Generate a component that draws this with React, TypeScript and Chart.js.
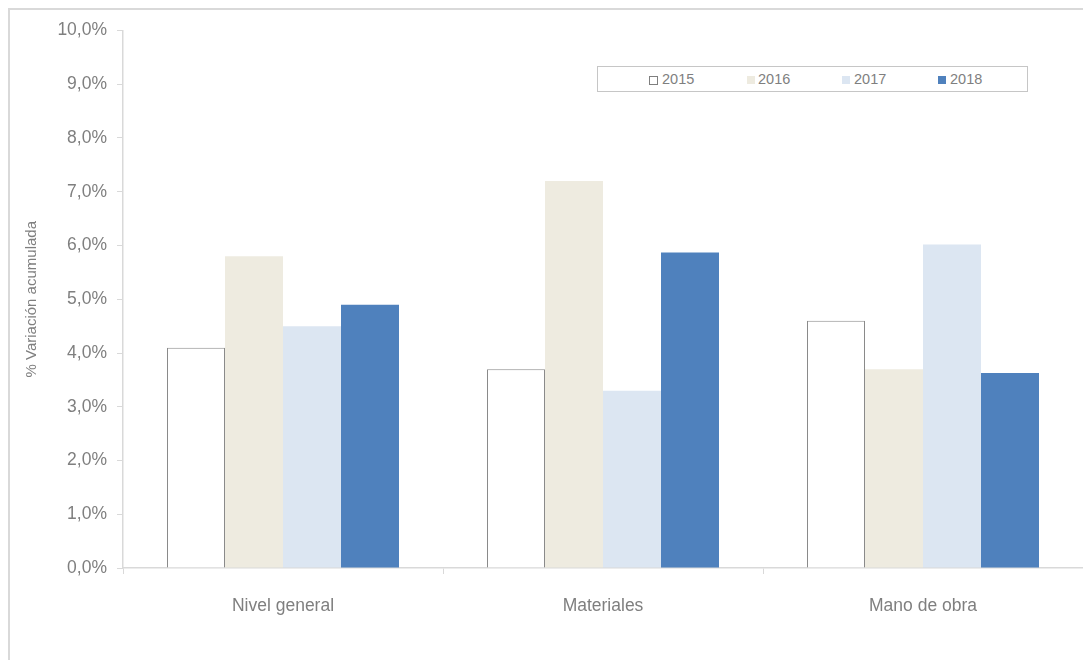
import React, { useEffect, useRef } from "react";
import { Chart, registerables } from "chart.js";

Chart.register(...registerables);

// Categories and yearly accumulated variation (%)
const categories = ["Nivel general", "Materiales", "Mano de obra"];
const years = ["2015", "2016", "2017", "2018"];
const values2015 = [4.1, 3.7, 4.6];
const values2016 = [5.8, 7.2, 3.7];
const values2017 = [4.5, 3.3, 6.02];
const values2018 = [4.9, 5.87, 3.63];
const yTicks = [0, 1, 2, 3, 4, 5, 6, 7, 8, 9, 10];

const FONT = '"Liberation Sans", Arial, sans-serif';
const TEXT = "#7f7f7f";
const AXIS = "#d9d9d9";

const fills = ["#ffffff", "#eeebe0", "#dce6f2", "#4f81bd"];
const borders = ["#8a8a8a", "#eeebe0", "#dce6f2", "#4f81bd"];
const series = [values2015, values2016, values2017, values2018];

const fmt = (v: number) => v.toFixed(1).replace(".", ",") + "%";

export default function App() {
  const ref = useRef<HTMLCanvasElement | null>(null);

  useEffect(() => {
    if (!ref.current) return;
    const chart = new Chart(ref.current, {
      type: "bar",
      data: {
        labels: categories,
        datasets: years.map((y, i) => ({
          label: y,
          data: series[i],
          backgroundColor: fills[i],
          borderColor: borders[i],
          borderWidth: i === 0 ? 1 : 0,
          categoryPercentage: 0.725,
          barPercentage: 1,
        })),
      },
      options: {
        animation: false,
        responsive: true,
        maintainAspectRatio: false,
        layout: { padding: { top: 18, right: 8, left: 0, bottom: 0 } },
        plugins: {
          legend: { display: false },
          tooltip: { enabled: false },
        },
        scales: {
          x: {
            grid: {
              offset: true,
              drawOnChartArea: false,
              drawTicks: true,
              tickLength: 6,
              color: AXIS,
            },
            border: { color: AXIS, width: 1.5 },
            ticks: {
              color: TEXT,
              font: { family: FONT, size: 17.5 },
              padding: 22,
            },
            afterFit: (s: any) => {
              s.height = 92;
            },
          },
          y: {
            min: 0,
            max: 10,
            afterBuildTicks: (s: any) => {
              s.ticks = yTicks.map((v) => ({ value: v }));
            },
            grid: {
              drawOnChartArea: false,
              drawTicks: true,
              tickLength: 6,
              color: AXIS,
            },
            border: { color: AXIS, width: 1.5 },
            ticks: {
              color: TEXT,
              font: { family: FONT, size: 17.5 },
              padding: 10,
              callback: (v: any) => fmt(Number(v)),
            },
            title: {
              display: true,
              text: "% Variación acumulada",
              color: TEXT,
              font: { family: FONT, size: 15 },
              padding: { top: 13, bottom: 0 },
            },
            afterFit: (s: any) => {
              s.width = 113;
            },
          },
        },
      },
    });
    return () => chart.destroy();
  }, []);

  const legendPos = [
    { marker: 51, text: 64 },
    { marker: 149, text: 160 },
    { marker: 244, text: 256 },
    { marker: 340, text: 352 },
  ];

  return (
    <div
      style={{
        position: "relative",
        width: 1081,
        height: 650,
        borderLeft: "2px solid #d9d9d9",
        borderTop: "2px solid #d9d9d9",
        overflow: "hidden",
      }}
    >
      <div style={{ position: "absolute", left: 0, top: 0, width: 1081, height: 650 }}>
        <canvas ref={ref} />
      </div>
      <div
        style={{
          position: "absolute",
          left: 587,
          top: 56,
          width: 429,
          height: 24,
          border: "1px solid #c6c6c6",
          background: "#ffffff",
          fontFamily: FONT,
          fontSize: 14.5,
          color: TEXT,
        }}
      >
        {years.map((y, i) => (
          <React.Fragment key={y}>
            <div
              style={{
                position: "absolute",
                left: legendPos[i].marker,
                top: 9,
                width: i === 0 ? 7 : 8,
                height: i === 0 ? 7 : 8,
                background: fills[i],
                border: i === 0 ? "1px solid #7f7f7f" : "none",
              }}
            />
            <div
              style={{
                position: "absolute",
                left: legendPos[i].text,
                top: 3,
                lineHeight: "18px",
              }}
            >
              {y}
            </div>
          </React.Fragment>
        ))}
      </div>
    </div>
  );
}
